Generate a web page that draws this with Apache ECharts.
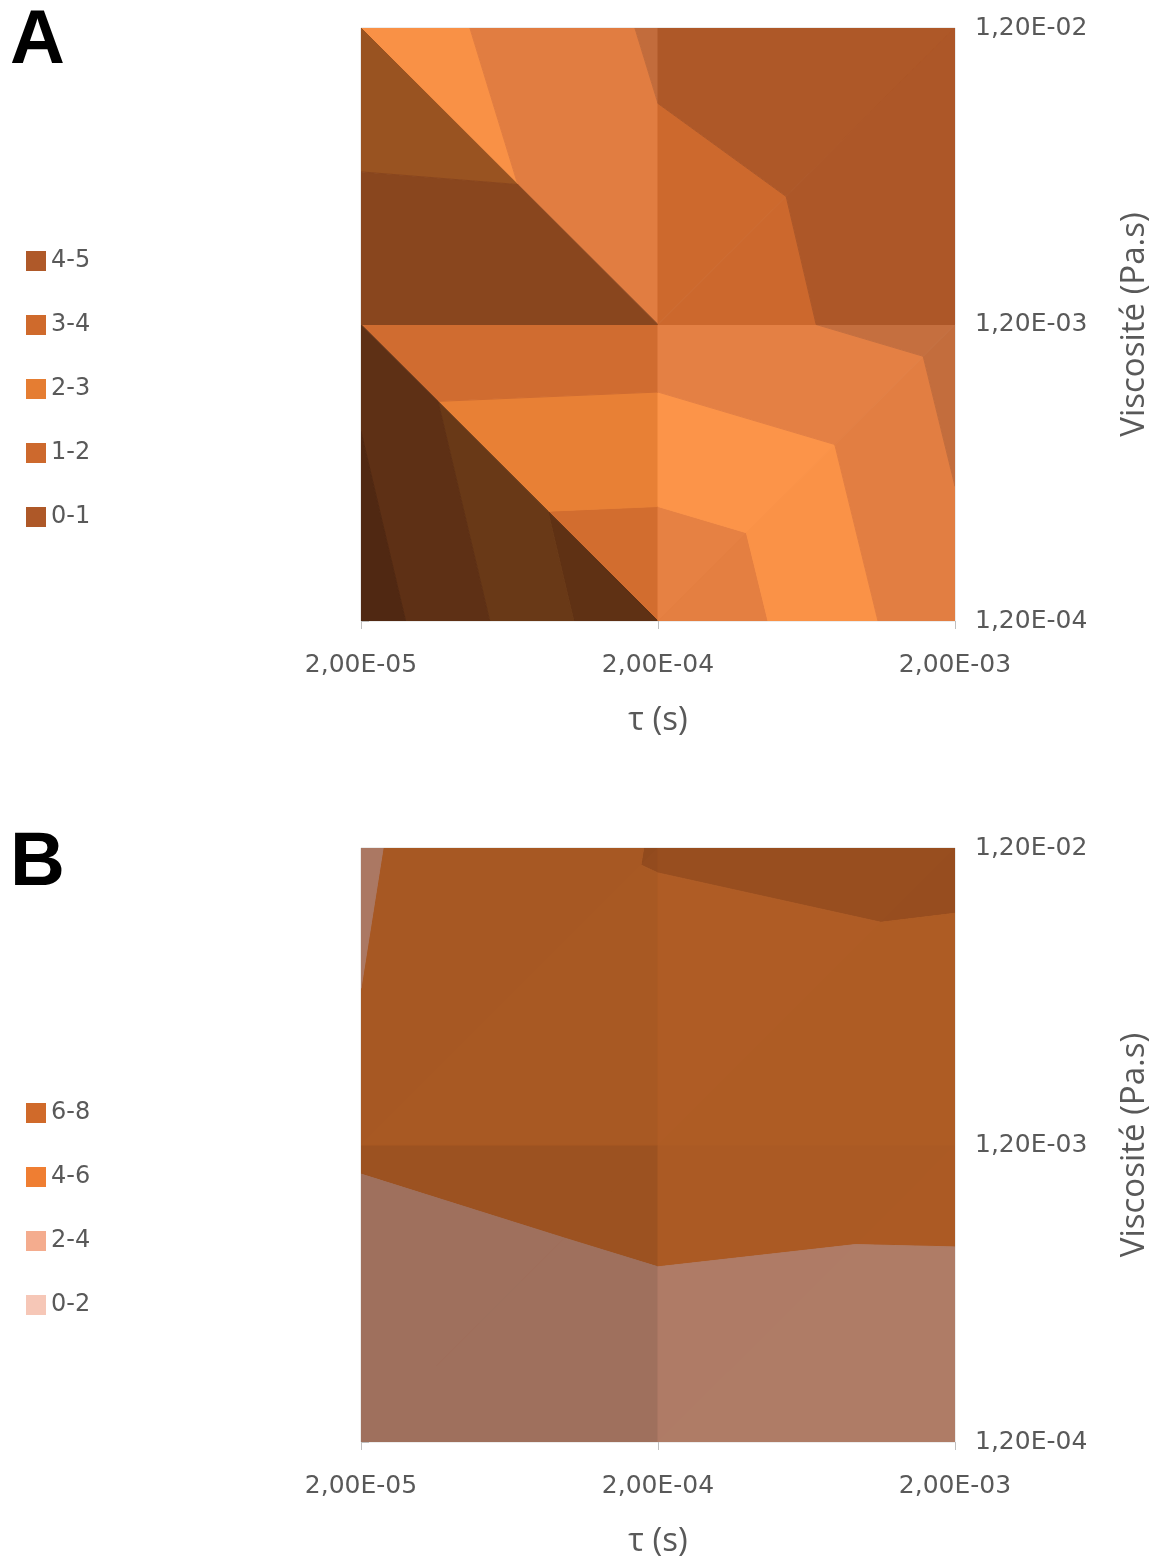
<!DOCTYPE html>
<html>
<head>
<meta charset="utf-8">
<script src="https://cdn.jsdelivr.net/npm/echarts@6/dist/echarts.min.js"></script>
<style>
html,body{margin:0;padding:0;background:#ffffff;}
#chart{width:1163px;height:1562px;}
</style>
</head>
<body>
<div id="chart"></div>
<script>
// ---------------- DATA ----------------
const tau = [2e-5, 2e-4, 2e-3];             // τ (s)  -> columns
const viscosity = [1.2e-4, 1.2e-3, 1.2e-2]; // Pa.s   -> rows (bottom to top)

// Surface values, rows = viscosity index (1.2E-04, 1.2E-03, 1.2E-02), cols = tau index
const valuesA = [
  [0.47, 4.00, 1.30],
  [1.30, 1.41, 0.64],
  [2.66, 0.86, 0.46]
];
const valuesB = [
  [2.25, 2.85, 2.89],
  [4.19, 4.80, 4.58],
  [3.83, 6.11, 6.40]
];

// Legend bands (top to bottom as in legend)
const bandsA = ['4-5', '3-4', '2-3', '1-2', '0-1'];
const bandsB = ['6-8', '4-6', '2-4', '0-2'];
const rangeA = [0, 5];
const rangeB = [0, 8];

// ---------------- STYLE ----------------
const bandColors = {
  '4-5': '#AF5929', '3-4': '#CF6A2C', '2-3': '#E57D32', '1-2': '#CD692D', '0-1': '#AE5828',
  '6-8': '#D06A2A', '4-6': '#EF7E32', '2-4': '#F4AC8E', '0-2': '#F6C7B7'
};
// triangulation diagonal per cell [row][col]
const splitsA = [['TLBR', 'BLTR'], ['TLBR', 'BLTR']];
const splitsB = [['BLTR', 'BLTR'], ['BLTR', 'BLTR']];
const LIGHT = { dir: [1, 1, 0.8], height: 2.5, ambient: 0.652, diffuse: 0.469, gloss: 1.15 };
const FONT = 'Open Sans';
const TICKFONT = 'DejaVu Sans';
const GREY = '#595959';

// ---------------- HELPERS ----------------
const xPos = tau.map(t => Math.log10(t / tau[0]));
const yPos = viscosity.map(v => Math.log10(v / viscosity[0]));

function sci(v) {
  const e = Math.floor(Math.log10(v) + 1e-9);
  const m = v / Math.pow(10, e);
  return m.toFixed(2).replace('.', ',') + 'E' + (e < 0 ? '-' : '+') + String(Math.abs(e)).padStart(2, '0');
}

function clipPoly(poly, level, keepAbove) {
  const out = [];
  for (let i = 0; i < poly.length; i++) {
    const a = poly[i], b = poly[(i + 1) % poly.length];
    const ina = keepAbove ? a[2] >= level : a[2] <= level;
    const inb = keepAbove ? b[2] >= level : b[2] <= level;
    if (ina) out.push(a);
    if (ina !== inb) {
      const t = (level - a[2]) / (b[2] - a[2]);
      out.push([a[0] + t * (b[0] - a[0]), a[1] + t * (b[1] - a[1]), level]);
    }
  }
  return out;
}

function lightIntensity(tri, range) {
  const k = LIGHT.height / (range[1] - range[0]);
  const [a, b, c] = tri;
  const u = [b[0] - a[0], b[1] - a[1], (b[2] - a[2]) * k];
  const v = [c[0] - a[0], c[1] - a[1], (c[2] - a[2]) * k];
  let n = [u[1] * v[2] - u[2] * v[1], u[2] * v[0] - u[0] * v[2], u[0] * v[1] - u[1] * v[0]];
  if (n[2] < 0) n = n.map(x => -x);
  const L = LIGHT.dir;
  const d = (n[0] * L[0] + n[1] * L[1] + n[2] * L[2]) / (Math.hypot(...n) * Math.hypot(...L));
  return LIGHT.ambient + LIGHT.diffuse * d;
}

function shade(hex, I) {
  const r = parseInt(hex.slice(1, 3), 16), g = parseInt(hex.slice(3, 5), 16), b = parseInt(hex.slice(5, 7), 16);
  const f = Math.min(I, 1);
  const w = Math.max(0, I - 1) * LIGHT.gloss * 255;
  const c = x => Math.max(0, Math.min(255, Math.round(x * f + w)));
  return 'rgb(' + c(r) + ',' + c(g) + ',' + c(b) + ')';
}

function buildPanel(values, bands, splits, range) {
  const lim = bands.map(b => b.split('-').map(Number));
  const result = bands.map(() => []);
  for (let j = 0; j < yPos.length - 1; j++) {
    for (let i = 0; i < xPos.length - 1; i++) {
      const P = (ii, jj) => [xPos[ii], yPos[jj], values[jj][ii]];
      const BL = P(i, j), BR = P(i + 1, j), TL = P(i, j + 1), TR = P(i + 1, j + 1);
      const tris = splits[j][i] === 'TLBR' ? [[TL, TR, BR], [TL, BL, BR]] : [[BL, TR, TL], [BL, BR, TR]];
      tris.forEach(tri => {
        const I = lightIntensity(tri, range);
        lim.forEach((l, bi) => {
          let poly = clipPoly(tri, l[0], true);
          if (poly.length >= 3) poly = clipPoly(poly, l[1], false);
          if (poly.length >= 3) {
            result[bi].push({ pts: poly.map(p => [p[0], p[1]]), color: shade(bandColors[bands[bi]], I) });
          }
        });
      });
    }
  }
  return result;
}

function bandSeries(panelIdx, bands, polysByBand) {
  return bands.map((name, bi) => {
    const polys = polysByBand[bi];
    return {
      name: name,
      type: 'custom',
      xAxisIndex: panelIdx,
      yAxisIndex: panelIdx,
      itemStyle: { color: bandColors[name] },
      silent: true,
      clip: true,
      encode: { x: 0, y: 1 },
      data: polys.map((p, idx) => {
        const cx = p.pts.reduce((s, q) => s + q[0], 0) / p.pts.length;
        const cy = p.pts.reduce((s, q) => s + q[1], 0) / p.pts.length;
        return [cx, cy, idx];
      }),
      renderItem: function (params, api) {
        const p = polys[api.value(2)];
        const points = p.pts.map(q => api.coord(q));
        return {
          type: 'polygon',
          shape: { points: points },
          style: { fill: p.color, stroke: p.color, lineWidth: 1 }
        };
      }
    };
  });
}

const polysA = buildPanel(valuesA, bandsA, splitsA, rangeA);
const polysB = buildPanel(valuesB, bandsB, splitsB, rangeB);

function xAxisFor(gi) {
  return {
    gridIndex: gi, type: 'value', position: 'bottom',
    min: xPos[0], max: xPos[xPos.length - 1], interval: 1,
    name: 'τ (s)', nameLocation: 'middle', nameGap: 83,
    nameTextStyle: { fontFamily: FONT, fontSize: 33, color: GREY },
    axisLine: { show: false },
    axisTick: { show: true, length: 8, lineStyle: { color: '#BFBFBF', width: 1 } },
    splitLine: { show: false },
    axisLabel: {
      margin: 32, fontFamily: TICKFONT, fontSize: 25, color: GREY,
      formatter: v => sci(tau[0] * Math.pow(10, v))
    }
  };
}
function yAxisFor(gi) {
  return {
    gridIndex: gi, type: 'value', position: 'right',
    min: yPos[0], max: yPos[yPos.length - 1], interval: 1,
    name: 'Viscosité (Pa.s)', nameLocation: 'middle', nameGap: 163,
    nameTextStyle: { fontFamily: FONT, fontSize: 33, color: GREY },
    axisLine: { show: false },
    axisTick: { show: true, length: 8, lineStyle: { color: '#BFBFBF', width: 1 } },
    splitLine: { show: false },
    axisLabel: {
      margin: 20, fontFamily: TICKFONT, fontSize: 25, color: GREY,
      formatter: v => sci(viscosity[0] * Math.pow(10, v))
    }
  };
}

const chart = echarts.init(document.getElementById('chart'), null, { renderer: 'canvas' });
chart.setOption({
  animation: false,
  backgroundColor: '#ffffff',
  title: [
    { text: 'A', left: 10, top: 4, padding: 0,
      textStyle: { fontFamily: 'Liberation Sans', fontWeight: 'bold', fontSize: 76, color: '#000000' } },
    { text: 'B', left: 10, top: 826, padding: 0,
      textStyle: { fontFamily: 'Liberation Sans', fontWeight: 'bold', fontSize: 76, color: '#000000' } }
  ],
  legend: [
    { data: bandsA, orient: 'vertical', left: 26, top: 249, padding: 0, itemGap: 40,
      itemWidth: 20, itemHeight: 20, icon: 'rect', selectedMode: false,
      textStyle: { fontFamily: TICKFONT, fontSize: 24, color: GREY } },
    { data: bandsB, orient: 'vertical', left: 26, top: 1101, padding: 0, itemGap: 40,
      itemWidth: 20, itemHeight: 20, icon: 'rect', selectedMode: false,
      textStyle: { fontFamily: TICKFONT, fontSize: 24, color: GREY } }
  ],
  grid: [
    { left: 361, top: 28, width: 594, height: 593, show: true, borderColor: '#D9D9D9', borderWidth: 1, backgroundColor: 'transparent' },
    { left: 361, top: 848, width: 594, height: 594, show: true, borderColor: '#D9D9D9', borderWidth: 1, backgroundColor: 'transparent' }
  ],
  xAxis: [xAxisFor(0), xAxisFor(1)],
  yAxis: [yAxisFor(0), yAxisFor(1)],
  series: [].concat(bandSeries(0, bandsA, polysA), bandSeries(1, bandsB, polysB))
});
</script>
</body>
</html>
